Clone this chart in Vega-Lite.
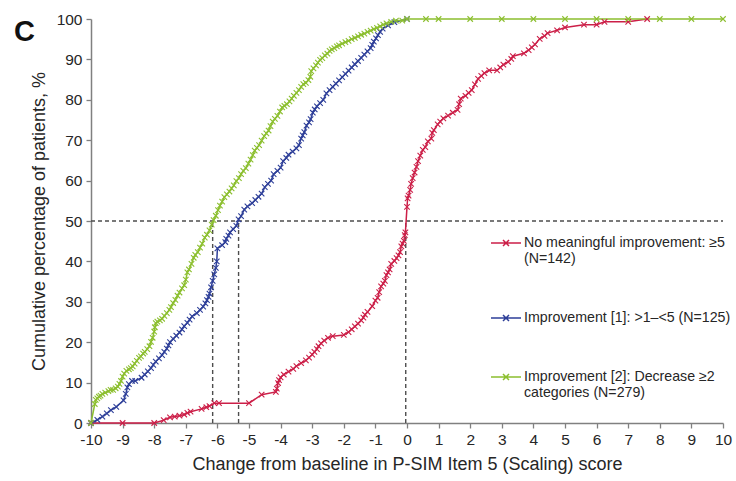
{
  "$schema": "https://vega.github.io/schema/vega-lite/v6.json",
  "width": 632,
  "height": 404,
  "autosize": {"type": "none"},
  "padding": {"left": 91, "top": 19, "right": 13, "bottom": 58},
  "background": "white",
  "title": {"text": "C", "anchor": "start", "frame": "group", "font": "Liberation Sans", "fontSize": 29, "fontWeight": "bold", "color": "#111", "dx": -77, "dy": 35, "offset": 0},
  "config": {
    "view": {"stroke": null},
    "axis": {"grid": false, "domainColor": "#808080", "domainWidth": 1.5, "tickColor": "#808080", "tickWidth": 1.3, "tickSize": 5, "labelFont": "Liberation Sans", "labelFontSize": 15.5, "labelColor": "#262626", "titleFont": "Liberation Sans", "titleFontSize": 18, "titleFontWeight": "normal", "titleColor": "#262626"},
    "legend": {"labelFont": "Liberation Sans", "labelFontSize": 14.2, "labelColor": "#262626"}
  },
  "datasets": {
    "curves": [
      {"group": "No meaningful improvement: ≥5 (N=142)", "change": -10, "pct": 0},
      {"group": "No meaningful improvement: ≥5 (N=142)", "change": -9, "pct": 0},
      {"group": "No meaningful improvement: ≥5 (N=142)", "change": -8, "pct": 0},
      {"group": "No meaningful improvement: ≥5 (N=142)", "change": -7.7, "pct": 0.7},
      {"group": "No meaningful improvement: ≥5 (N=142)", "change": -7.5, "pct": 1.4},
      {"group": "No meaningful improvement: ≥5 (N=142)", "change": -7.35, "pct": 1.6},
      {"group": "No meaningful improvement: ≥5 (N=142)", "change": -7.2, "pct": 1.8},
      {"group": "No meaningful improvement: ≥5 (N=142)", "change": -7.05, "pct": 2.1},
      {"group": "No meaningful improvement: ≥5 (N=142)", "change": -6.95, "pct": 2.5},
      {"group": "No meaningful improvement: ≥5 (N=142)", "change": -6.85, "pct": 2.8},
      {"group": "No meaningful improvement: ≥5 (N=142)", "change": -6.5, "pct": 3.5},
      {"group": "No meaningful improvement: ≥5 (N=142)", "change": -6.35, "pct": 3.9},
      {"group": "No meaningful improvement: ≥5 (N=142)", "change": -6.25, "pct": 4.2},
      {"group": "No meaningful improvement: ≥5 (N=142)", "change": -6.1, "pct": 4.9},
      {"group": "No meaningful improvement: ≥5 (N=142)", "change": -5.95, "pct": 4.9},
      {"group": "No meaningful improvement: ≥5 (N=142)", "change": -5.0, "pct": 4.9},
      {"group": "No meaningful improvement: ≥5 (N=142)", "change": -4.6, "pct": 7.0},
      {"group": "No meaningful improvement: ≥5 (N=142)", "change": -4.15, "pct": 7.7},
      {"group": "No meaningful improvement: ≥5 (N=142)", "change": -4.12, "pct": 8.5},
      {"group": "No meaningful improvement: ≥5 (N=142)", "change": -4.08, "pct": 9.9},
      {"group": "No meaningful improvement: ≥5 (N=142)", "change": -4.05, "pct": 10.6},
      {"group": "No meaningful improvement: ≥5 (N=142)", "change": -4.0, "pct": 11.3},
      {"group": "No meaningful improvement: ≥5 (N=142)", "change": -3.9, "pct": 12.0},
      {"group": "No meaningful improvement: ≥5 (N=142)", "change": -3.75, "pct": 12.7},
      {"group": "No meaningful improvement: ≥5 (N=142)", "change": -3.6, "pct": 13.4},
      {"group": "No meaningful improvement: ≥5 (N=142)", "change": -3.5, "pct": 14.1},
      {"group": "No meaningful improvement: ≥5 (N=142)", "change": -3.35, "pct": 14.8},
      {"group": "No meaningful improvement: ≥5 (N=142)", "change": -3.2, "pct": 15.5},
      {"group": "No meaningful improvement: ≥5 (N=142)", "change": -3.1, "pct": 16.2},
      {"group": "No meaningful improvement: ≥5 (N=142)", "change": -3.0, "pct": 16.9},
      {"group": "No meaningful improvement: ≥5 (N=142)", "change": -2.93, "pct": 17.6},
      {"group": "No meaningful improvement: ≥5 (N=142)", "change": -2.85, "pct": 18.3},
      {"group": "No meaningful improvement: ≥5 (N=142)", "change": -2.8, "pct": 19.0},
      {"group": "No meaningful improvement: ≥5 (N=142)", "change": -2.72, "pct": 19.7},
      {"group": "No meaningful improvement: ≥5 (N=142)", "change": -2.62, "pct": 20.4},
      {"group": "No meaningful improvement: ≥5 (N=142)", "change": -2.5, "pct": 21.1},
      {"group": "No meaningful improvement: ≥5 (N=142)", "change": -2.35, "pct": 21.5},
      {"group": "No meaningful improvement: ≥5 (N=142)", "change": -2.0, "pct": 21.8},
      {"group": "No meaningful improvement: ≥5 (N=142)", "change": -1.85, "pct": 22.5},
      {"group": "No meaningful improvement: ≥5 (N=142)", "change": -1.75, "pct": 23.2},
      {"group": "No meaningful improvement: ≥5 (N=142)", "change": -1.65, "pct": 23.9},
      {"group": "No meaningful improvement: ≥5 (N=142)", "change": -1.55, "pct": 24.6},
      {"group": "No meaningful improvement: ≥5 (N=142)", "change": -1.45, "pct": 25.4},
      {"group": "No meaningful improvement: ≥5 (N=142)", "change": -1.38, "pct": 26.1},
      {"group": "No meaningful improvement: ≥5 (N=142)", "change": -1.33, "pct": 26.8},
      {"group": "No meaningful improvement: ≥5 (N=142)", "change": -1.25, "pct": 27.5},
      {"group": "No meaningful improvement: ≥5 (N=142)", "change": -1.1, "pct": 28.9},
      {"group": "No meaningful improvement: ≥5 (N=142)", "change": -1.0, "pct": 30.3},
      {"group": "No meaningful improvement: ≥5 (N=142)", "change": -0.93, "pct": 31.0},
      {"group": "No meaningful improvement: ≥5 (N=142)", "change": -0.88, "pct": 32.4},
      {"group": "No meaningful improvement: ≥5 (N=142)", "change": -0.82, "pct": 33.8},
      {"group": "No meaningful improvement: ≥5 (N=142)", "change": -0.75, "pct": 34.5},
      {"group": "No meaningful improvement: ≥5 (N=142)", "change": -0.7, "pct": 35.2},
      {"group": "No meaningful improvement: ≥5 (N=142)", "change": -0.65, "pct": 36.6},
      {"group": "No meaningful improvement: ≥5 (N=142)", "change": -0.6, "pct": 37.3},
      {"group": "No meaningful improvement: ≥5 (N=142)", "change": -0.55, "pct": 38.0},
      {"group": "No meaningful improvement: ≥5 (N=142)", "change": -0.5, "pct": 39.4},
      {"group": "No meaningful improvement: ≥5 (N=142)", "change": -0.4, "pct": 40.1},
      {"group": "No meaningful improvement: ≥5 (N=142)", "change": -0.33, "pct": 40.8},
      {"group": "No meaningful improvement: ≥5 (N=142)", "change": -0.27, "pct": 41.5},
      {"group": "No meaningful improvement: ≥5 (N=142)", "change": -0.22, "pct": 42.3},
      {"group": "No meaningful improvement: ≥5 (N=142)", "change": -0.18, "pct": 43.7},
      {"group": "No meaningful improvement: ≥5 (N=142)", "change": -0.14, "pct": 44.4},
      {"group": "No meaningful improvement: ≥5 (N=142)", "change": -0.1, "pct": 45.1},
      {"group": "No meaningful improvement: ≥5 (N=142)", "change": -0.07, "pct": 46.5},
      {"group": "No meaningful improvement: ≥5 (N=142)", "change": -0.05, "pct": 47.2},
      {"group": "No meaningful improvement: ≥5 (N=142)", "change": 0, "pct": 53.5},
      {"group": "No meaningful improvement: ≥5 (N=142)", "change": 0.02, "pct": 55.6},
      {"group": "No meaningful improvement: ≥5 (N=142)", "change": 0.05, "pct": 56.3},
      {"group": "No meaningful improvement: ≥5 (N=142)", "change": 0.1, "pct": 57.7},
      {"group": "No meaningful improvement: ≥5 (N=142)", "change": 0.13, "pct": 59.2},
      {"group": "No meaningful improvement: ≥5 (N=142)", "change": 0.18, "pct": 60.6},
      {"group": "No meaningful improvement: ≥5 (N=142)", "change": 0.24, "pct": 62.0},
      {"group": "No meaningful improvement: ≥5 (N=142)", "change": 0.3, "pct": 63.4},
      {"group": "No meaningful improvement: ≥5 (N=142)", "change": 0.35, "pct": 64.8},
      {"group": "No meaningful improvement: ≥5 (N=142)", "change": 0.42, "pct": 66.2},
      {"group": "No meaningful improvement: ≥5 (N=142)", "change": 0.5, "pct": 67.6},
      {"group": "No meaningful improvement: ≥5 (N=142)", "change": 0.58, "pct": 68.3},
      {"group": "No meaningful improvement: ≥5 (N=142)", "change": 0.66, "pct": 69.7},
      {"group": "No meaningful improvement: ≥5 (N=142)", "change": 0.77, "pct": 70.4},
      {"group": "No meaningful improvement: ≥5 (N=142)", "change": 0.8, "pct": 71.8},
      {"group": "No meaningful improvement: ≥5 (N=142)", "change": 0.85, "pct": 72.5},
      {"group": "No meaningful improvement: ≥5 (N=142)", "change": 0.97, "pct": 73.9},
      {"group": "No meaningful improvement: ≥5 (N=142)", "change": 1.05, "pct": 74.6},
      {"group": "No meaningful improvement: ≥5 (N=142)", "change": 1.15, "pct": 75.4},
      {"group": "No meaningful improvement: ≥5 (N=142)", "change": 1.3, "pct": 76.1},
      {"group": "No meaningful improvement: ≥5 (N=142)", "change": 1.45, "pct": 76.8},
      {"group": "No meaningful improvement: ≥5 (N=142)", "change": 1.6, "pct": 77.5},
      {"group": "No meaningful improvement: ≥5 (N=142)", "change": 1.65, "pct": 78.9},
      {"group": "No meaningful improvement: ≥5 (N=142)", "change": 1.7, "pct": 80.3},
      {"group": "No meaningful improvement: ≥5 (N=142)", "change": 1.85, "pct": 81.0},
      {"group": "No meaningful improvement: ≥5 (N=142)", "change": 1.95, "pct": 81.7},
      {"group": "No meaningful improvement: ≥5 (N=142)", "change": 2.05, "pct": 82.4},
      {"group": "No meaningful improvement: ≥5 (N=142)", "change": 2.15, "pct": 83.8},
      {"group": "No meaningful improvement: ≥5 (N=142)", "change": 2.25, "pct": 85.2},
      {"group": "No meaningful improvement: ≥5 (N=142)", "change": 2.35, "pct": 85.9},
      {"group": "No meaningful improvement: ≥5 (N=142)", "change": 2.45, "pct": 86.6},
      {"group": "No meaningful improvement: ≥5 (N=142)", "change": 2.6, "pct": 87.3},
      {"group": "No meaningful improvement: ≥5 (N=142)", "change": 2.85, "pct": 87.3},
      {"group": "No meaningful improvement: ≥5 (N=142)", "change": 2.95, "pct": 88.0},
      {"group": "No meaningful improvement: ≥5 (N=142)", "change": 3.05, "pct": 88.7},
      {"group": "No meaningful improvement: ≥5 (N=142)", "change": 3.2, "pct": 89.4},
      {"group": "No meaningful improvement: ≥5 (N=142)", "change": 3.3, "pct": 90.1},
      {"group": "No meaningful improvement: ≥5 (N=142)", "change": 3.35, "pct": 90.8},
      {"group": "No meaningful improvement: ≥5 (N=142)", "change": 3.7, "pct": 91.5},
      {"group": "No meaningful improvement: ≥5 (N=142)", "change": 3.85, "pct": 92.3},
      {"group": "No meaningful improvement: ≥5 (N=142)", "change": 3.95, "pct": 93.0},
      {"group": "No meaningful improvement: ≥5 (N=142)", "change": 4.05, "pct": 93.7},
      {"group": "No meaningful improvement: ≥5 (N=142)", "change": 4.2, "pct": 95.1},
      {"group": "No meaningful improvement: ≥5 (N=142)", "change": 4.35, "pct": 95.8},
      {"group": "No meaningful improvement: ≥5 (N=142)", "change": 4.45, "pct": 96.5},
      {"group": "No meaningful improvement: ≥5 (N=142)", "change": 4.75, "pct": 97.2},
      {"group": "No meaningful improvement: ≥5 (N=142)", "change": 5.0, "pct": 97.9},
      {"group": "No meaningful improvement: ≥5 (N=142)", "change": 5.6, "pct": 98.6},
      {"group": "No meaningful improvement: ≥5 (N=142)", "change": 6.0, "pct": 98.6},
      {"group": "No meaningful improvement: ≥5 (N=142)", "change": 6.25, "pct": 99.3},
      {"group": "No meaningful improvement: ≥5 (N=142)", "change": 7.0, "pct": 99.3},
      {"group": "No meaningful improvement: ≥5 (N=142)", "change": 7.6, "pct": 100},

      {"group": "Improvement [1]: >1–<5 (N=125)", "change": -10, "pct": 0},
      {"group": "Improvement [1]: >1–<5 (N=125)", "change": -9.8, "pct": 0.8},
      {"group": "Improvement [1]: >1–<5 (N=125)", "change": -9.64, "pct": 1.6},
      {"group": "Improvement [1]: >1–<5 (N=125)", "change": -9.5, "pct": 2.4},
      {"group": "Improvement [1]: >1–<5 (N=125)", "change": -9.37, "pct": 3.2},
      {"group": "Improvement [1]: >1–<5 (N=125)", "change": -9.2, "pct": 4.0},
      {"group": "Improvement [1]: >1–<5 (N=125)", "change": -8.97, "pct": 5.6},
      {"group": "Improvement [1]: >1–<5 (N=125)", "change": -8.9, "pct": 7.2},
      {"group": "Improvement [1]: >1–<5 (N=125)", "change": -8.85, "pct": 8.8},
      {"group": "Improvement [1]: >1–<5 (N=125)", "change": -8.8, "pct": 9.6},
      {"group": "Improvement [1]: >1–<5 (N=125)", "change": -8.7, "pct": 10.4},
      {"group": "Improvement [1]: >1–<5 (N=125)", "change": -8.6, "pct": 10.4},
      {"group": "Improvement [1]: >1–<5 (N=125)", "change": -8.4, "pct": 11.2},
      {"group": "Improvement [1]: >1–<5 (N=125)", "change": -8.3, "pct": 12.0},
      {"group": "Improvement [1]: >1–<5 (N=125)", "change": -8.2, "pct": 12.8},
      {"group": "Improvement [1]: >1–<5 (N=125)", "change": -8.1, "pct": 13.6},
      {"group": "Improvement [1]: >1–<5 (N=125)", "change": -8.03, "pct": 14.4},
      {"group": "Improvement [1]: >1–<5 (N=125)", "change": -7.95, "pct": 15.2},
      {"group": "Improvement [1]: >1–<5 (N=125)", "change": -7.85, "pct": 16.0},
      {"group": "Improvement [1]: >1–<5 (N=125)", "change": -7.75, "pct": 16.8},
      {"group": "Improvement [1]: >1–<5 (N=125)", "change": -7.68, "pct": 17.6},
      {"group": "Improvement [1]: >1–<5 (N=125)", "change": -7.6, "pct": 18.4},
      {"group": "Improvement [1]: >1–<5 (N=125)", "change": -7.55, "pct": 19.2},
      {"group": "Improvement [1]: >1–<5 (N=125)", "change": -7.5, "pct": 20.0},
      {"group": "Improvement [1]: >1–<5 (N=125)", "change": -7.4, "pct": 20.8},
      {"group": "Improvement [1]: >1–<5 (N=125)", "change": -7.3, "pct": 21.6},
      {"group": "Improvement [1]: >1–<5 (N=125)", "change": -7.2, "pct": 22.4},
      {"group": "Improvement [1]: >1–<5 (N=125)", "change": -7.12, "pct": 23.2},
      {"group": "Improvement [1]: >1–<5 (N=125)", "change": -7.05, "pct": 24.0},
      {"group": "Improvement [1]: >1–<5 (N=125)", "change": -6.95, "pct": 24.8},
      {"group": "Improvement [1]: >1–<5 (N=125)", "change": -6.88, "pct": 25.6},
      {"group": "Improvement [1]: >1–<5 (N=125)", "change": -6.8, "pct": 26.4},
      {"group": "Improvement [1]: >1–<5 (N=125)", "change": -6.65, "pct": 27.2},
      {"group": "Improvement [1]: >1–<5 (N=125)", "change": -6.55, "pct": 28.0},
      {"group": "Improvement [1]: >1–<5 (N=125)", "change": -6.45, "pct": 28.8},
      {"group": "Improvement [1]: >1–<5 (N=125)", "change": -6.38, "pct": 29.6},
      {"group": "Improvement [1]: >1–<5 (N=125)", "change": -6.33, "pct": 30.4},
      {"group": "Improvement [1]: >1–<5 (N=125)", "change": -6.28, "pct": 31.2},
      {"group": "Improvement [1]: >1–<5 (N=125)", "change": -6.25, "pct": 32.0},
      {"group": "Improvement [1]: >1–<5 (N=125)", "change": -6.2, "pct": 33.6},
      {"group": "Improvement [1]: >1–<5 (N=125)", "change": -6.15, "pct": 35.2},
      {"group": "Improvement [1]: >1–<5 (N=125)", "change": -6.1, "pct": 36.8},
      {"group": "Improvement [1]: >1–<5 (N=125)", "change": -6.05, "pct": 38.4},
      {"group": "Improvement [1]: >1–<5 (N=125)", "change": -6.02, "pct": 40.0},
      {"group": "Improvement [1]: >1–<5 (N=125)", "change": -6.0, "pct": 43.2},
      {"group": "Improvement [1]: >1–<5 (N=125)", "change": -5.85, "pct": 44.0},
      {"group": "Improvement [1]: >1–<5 (N=125)", "change": -5.75, "pct": 44.8},
      {"group": "Improvement [1]: >1–<5 (N=125)", "change": -5.72, "pct": 45.6},
      {"group": "Improvement [1]: >1–<5 (N=125)", "change": -5.65, "pct": 46.4},
      {"group": "Improvement [1]: >1–<5 (N=125)", "change": -5.6, "pct": 47.2},
      {"group": "Improvement [1]: >1–<5 (N=125)", "change": -5.5, "pct": 48.0},
      {"group": "Improvement [1]: >1–<5 (N=125)", "change": -5.4, "pct": 48.8},
      {"group": "Improvement [1]: >1–<5 (N=125)", "change": -5.33, "pct": 50.4},
      {"group": "Improvement [1]: >1–<5 (N=125)", "change": -5.25, "pct": 51.2},
      {"group": "Improvement [1]: >1–<5 (N=125)", "change": -5.15, "pct": 52.8},
      {"group": "Improvement [1]: >1–<5 (N=125)", "change": -5.05, "pct": 53.6},
      {"group": "Improvement [1]: >1–<5 (N=125)", "change": -4.9, "pct": 54.4},
      {"group": "Improvement [1]: >1–<5 (N=125)", "change": -4.8, "pct": 55.2},
      {"group": "Improvement [1]: >1–<5 (N=125)", "change": -4.7, "pct": 56.0},
      {"group": "Improvement [1]: >1–<5 (N=125)", "change": -4.6, "pct": 56.8},
      {"group": "Improvement [1]: >1–<5 (N=125)", "change": -4.5, "pct": 58.4},
      {"group": "Improvement [1]: >1–<5 (N=125)", "change": -4.4, "pct": 59.2},
      {"group": "Improvement [1]: >1–<5 (N=125)", "change": -4.3, "pct": 60.0},
      {"group": "Improvement [1]: >1–<5 (N=125)", "change": -4.22, "pct": 61.6},
      {"group": "Improvement [1]: >1–<5 (N=125)", "change": -4.1, "pct": 62.4},
      {"group": "Improvement [1]: >1–<5 (N=125)", "change": -4.0, "pct": 63.2},
      {"group": "Improvement [1]: >1–<5 (N=125)", "change": -3.92, "pct": 64.8},
      {"group": "Improvement [1]: >1–<5 (N=125)", "change": -3.82, "pct": 65.6},
      {"group": "Improvement [1]: >1–<5 (N=125)", "change": -3.75, "pct": 66.4},
      {"group": "Improvement [1]: >1–<5 (N=125)", "change": -3.62, "pct": 67.2},
      {"group": "Improvement [1]: >1–<5 (N=125)", "change": -3.5, "pct": 68.0},
      {"group": "Improvement [1]: >1–<5 (N=125)", "change": -3.42, "pct": 68.8},
      {"group": "Improvement [1]: >1–<5 (N=125)", "change": -3.35, "pct": 70.4},
      {"group": "Improvement [1]: >1–<5 (N=125)", "change": -3.3, "pct": 71.2},
      {"group": "Improvement [1]: >1–<5 (N=125)", "change": -3.25, "pct": 72.0},
      {"group": "Improvement [1]: >1–<5 (N=125)", "change": -3.18, "pct": 73.6},
      {"group": "Improvement [1]: >1–<5 (N=125)", "change": -3.1, "pct": 74.4},
      {"group": "Improvement [1]: >1–<5 (N=125)", "change": -3.05, "pct": 75.2},
      {"group": "Improvement [1]: >1–<5 (N=125)", "change": -2.98, "pct": 76.8},
      {"group": "Improvement [1]: >1–<5 (N=125)", "change": -2.92, "pct": 77.6},
      {"group": "Improvement [1]: >1–<5 (N=125)", "change": -2.85, "pct": 78.4},
      {"group": "Improvement [1]: >1–<5 (N=125)", "change": -2.75, "pct": 79.2},
      {"group": "Improvement [1]: >1–<5 (N=125)", "change": -2.65, "pct": 80.0},
      {"group": "Improvement [1]: >1–<5 (N=125)", "change": -2.55, "pct": 81.6},
      {"group": "Improvement [1]: >1–<5 (N=125)", "change": -2.45, "pct": 82.4},
      {"group": "Improvement [1]: >1–<5 (N=125)", "change": -2.35, "pct": 83.2},
      {"group": "Improvement [1]: >1–<5 (N=125)", "change": -2.25, "pct": 84.0},
      {"group": "Improvement [1]: >1–<5 (N=125)", "change": -2.15, "pct": 84.8},
      {"group": "Improvement [1]: >1–<5 (N=125)", "change": -2.05, "pct": 85.6},
      {"group": "Improvement [1]: >1–<5 (N=125)", "change": -1.95, "pct": 86.4},
      {"group": "Improvement [1]: >1–<5 (N=125)", "change": -1.85, "pct": 87.2},
      {"group": "Improvement [1]: >1–<5 (N=125)", "change": -1.75, "pct": 88.0},
      {"group": "Improvement [1]: >1–<5 (N=125)", "change": -1.65, "pct": 88.8},
      {"group": "Improvement [1]: >1–<5 (N=125)", "change": -1.55, "pct": 89.6},
      {"group": "Improvement [1]: >1–<5 (N=125)", "change": -1.45, "pct": 90.4},
      {"group": "Improvement [1]: >1–<5 (N=125)", "change": -1.35, "pct": 91.2},
      {"group": "Improvement [1]: >1–<5 (N=125)", "change": -1.25, "pct": 92.0},
      {"group": "Improvement [1]: >1–<5 (N=125)", "change": -1.15, "pct": 92.8},
      {"group": "Improvement [1]: >1–<5 (N=125)", "change": -1.1, "pct": 93.6},
      {"group": "Improvement [1]: >1–<5 (N=125)", "change": -1.05, "pct": 94.4},
      {"group": "Improvement [1]: >1–<5 (N=125)", "change": -0.98, "pct": 95.2},
      {"group": "Improvement [1]: >1–<5 (N=125)", "change": -0.92, "pct": 96.0},
      {"group": "Improvement [1]: >1–<5 (N=125)", "change": -0.85, "pct": 96.8},
      {"group": "Improvement [1]: >1–<5 (N=125)", "change": -0.77, "pct": 97.6},
      {"group": "Improvement [1]: >1–<5 (N=125)", "change": -0.6, "pct": 98.4},
      {"group": "Improvement [1]: >1–<5 (N=125)", "change": -0.4, "pct": 99.2},
      {"group": "Improvement [1]: >1–<5 (N=125)", "change": 0, "pct": 100},

      {"group": "Improvement [2]: Decrease ≥2 categories (N=279)", "change": -10, "pct": 0},
      {"group": "Improvement [2]: Decrease ≥2 categories (N=279)", "change": -9.88, "pct": 4.7},
      {"group": "Improvement [2]: Decrease ≥2 categories (N=279)", "change": -9.85, "pct": 5.7},
      {"group": "Improvement [2]: Decrease ≥2 categories (N=279)", "change": -9.8, "pct": 6.1},
      {"group": "Improvement [2]: Decrease ≥2 categories (N=279)", "change": -9.75, "pct": 6.5},
      {"group": "Improvement [2]: Decrease ≥2 categories (N=279)", "change": -9.7, "pct": 6.8},
      {"group": "Improvement [2]: Decrease ≥2 categories (N=279)", "change": -9.64, "pct": 7.2},
      {"group": "Improvement [2]: Decrease ≥2 categories (N=279)", "change": -9.55, "pct": 7.5},
      {"group": "Improvement [2]: Decrease ≥2 categories (N=279)", "change": -9.45, "pct": 7.9},
      {"group": "Improvement [2]: Decrease ≥2 categories (N=279)", "change": -9.38, "pct": 8.2},
      {"group": "Improvement [2]: Decrease ≥2 categories (N=279)", "change": -9.3, "pct": 8.2},
      {"group": "Improvement [2]: Decrease ≥2 categories (N=279)", "change": -9.22, "pct": 8.6},
      {"group": "Improvement [2]: Decrease ≥2 categories (N=279)", "change": -9.15, "pct": 9.0},
      {"group": "Improvement [2]: Decrease ≥2 categories (N=279)", "change": -9.1, "pct": 9.7},
      {"group": "Improvement [2]: Decrease ≥2 categories (N=279)", "change": -9.05, "pct": 10.4},
      {"group": "Improvement [2]: Decrease ≥2 categories (N=279)", "change": -9.0, "pct": 11.5},
      {"group": "Improvement [2]: Decrease ≥2 categories (N=279)", "change": -8.95, "pct": 12.2},
      {"group": "Improvement [2]: Decrease ≥2 categories (N=279)", "change": -8.88, "pct": 12.9},
      {"group": "Improvement [2]: Decrease ≥2 categories (N=279)", "change": -8.8, "pct": 13.3},
      {"group": "Improvement [2]: Decrease ≥2 categories (N=279)", "change": -8.74, "pct": 13.6},
      {"group": "Improvement [2]: Decrease ≥2 categories (N=279)", "change": -8.68, "pct": 14.0},
      {"group": "Improvement [2]: Decrease ≥2 categories (N=279)", "change": -8.62, "pct": 14.7},
      {"group": "Improvement [2]: Decrease ≥2 categories (N=279)", "change": -8.55, "pct": 15.4},
      {"group": "Improvement [2]: Decrease ≥2 categories (N=279)", "change": -8.48, "pct": 16.1},
      {"group": "Improvement [2]: Decrease ≥2 categories (N=279)", "change": -8.42, "pct": 16.5},
      {"group": "Improvement [2]: Decrease ≥2 categories (N=279)", "change": -8.35, "pct": 17.2},
      {"group": "Improvement [2]: Decrease ≥2 categories (N=279)", "change": -8.3, "pct": 17.6},
      {"group": "Improvement [2]: Decrease ≥2 categories (N=279)", "change": -8.22, "pct": 18.3},
      {"group": "Improvement [2]: Decrease ≥2 categories (N=279)", "change": -8.15, "pct": 19.0},
      {"group": "Improvement [2]: Decrease ≥2 categories (N=279)", "change": -8.1, "pct": 20.1},
      {"group": "Improvement [2]: Decrease ≥2 categories (N=279)", "change": -8.05, "pct": 21.1},
      {"group": "Improvement [2]: Decrease ≥2 categories (N=279)", "change": -8.0, "pct": 22.6},
      {"group": "Improvement [2]: Decrease ≥2 categories (N=279)", "change": -7.98, "pct": 23.7},
      {"group": "Improvement [2]: Decrease ≥2 categories (N=279)", "change": -7.95, "pct": 24.7},
      {"group": "Improvement [2]: Decrease ≥2 categories (N=279)", "change": -7.9, "pct": 25.1},
      {"group": "Improvement [2]: Decrease ≥2 categories (N=279)", "change": -7.82, "pct": 25.4},
      {"group": "Improvement [2]: Decrease ≥2 categories (N=279)", "change": -7.75, "pct": 25.8},
      {"group": "Improvement [2]: Decrease ≥2 categories (N=279)", "change": -7.68, "pct": 26.5},
      {"group": "Improvement [2]: Decrease ≥2 categories (N=279)", "change": -7.6, "pct": 27.2},
      {"group": "Improvement [2]: Decrease ≥2 categories (N=279)", "change": -7.52, "pct": 28.0},
      {"group": "Improvement [2]: Decrease ≥2 categories (N=279)", "change": -7.47, "pct": 28.7},
      {"group": "Improvement [2]: Decrease ≥2 categories (N=279)", "change": -7.4, "pct": 29.7},
      {"group": "Improvement [2]: Decrease ≥2 categories (N=279)", "change": -7.33, "pct": 30.5},
      {"group": "Improvement [2]: Decrease ≥2 categories (N=279)", "change": -7.26, "pct": 31.5},
      {"group": "Improvement [2]: Decrease ≥2 categories (N=279)", "change": -7.2, "pct": 32.3},
      {"group": "Improvement [2]: Decrease ≥2 categories (N=279)", "change": -7.12, "pct": 33.3},
      {"group": "Improvement [2]: Decrease ≥2 categories (N=279)", "change": -7.05, "pct": 34.1},
      {"group": "Improvement [2]: Decrease ≥2 categories (N=279)", "change": -7.0, "pct": 35.5},
      {"group": "Improvement [2]: Decrease ≥2 categories (N=279)", "change": -6.95, "pct": 37.3},
      {"group": "Improvement [2]: Decrease ≥2 categories (N=279)", "change": -6.9, "pct": 38.0},
      {"group": "Improvement [2]: Decrease ≥2 categories (N=279)", "change": -6.82, "pct": 39.4},
      {"group": "Improvement [2]: Decrease ≥2 categories (N=279)", "change": -6.75, "pct": 40.9},
      {"group": "Improvement [2]: Decrease ≥2 categories (N=279)", "change": -6.7, "pct": 41.6},
      {"group": "Improvement [2]: Decrease ≥2 categories (N=279)", "change": -6.62, "pct": 42.3},
      {"group": "Improvement [2]: Decrease ≥2 categories (N=279)", "change": -6.55, "pct": 43.4},
      {"group": "Improvement [2]: Decrease ≥2 categories (N=279)", "change": -6.48, "pct": 44.4},
      {"group": "Improvement [2]: Decrease ≥2 categories (N=279)", "change": -6.4, "pct": 45.9},
      {"group": "Improvement [2]: Decrease ≥2 categories (N=279)", "change": -6.33, "pct": 46.6},
      {"group": "Improvement [2]: Decrease ≥2 categories (N=279)", "change": -6.25, "pct": 47.7},
      {"group": "Improvement [2]: Decrease ≥2 categories (N=279)", "change": -6.18, "pct": 49.1},
      {"group": "Improvement [2]: Decrease ≥2 categories (N=279)", "change": -6.12, "pct": 50.2},
      {"group": "Improvement [2]: Decrease ≥2 categories (N=279)", "change": -6.05, "pct": 51.3},
      {"group": "Improvement [2]: Decrease ≥2 categories (N=279)", "change": -5.98, "pct": 52.7},
      {"group": "Improvement [2]: Decrease ≥2 categories (N=279)", "change": -5.92, "pct": 53.8},
      {"group": "Improvement [2]: Decrease ≥2 categories (N=279)", "change": -5.85, "pct": 54.8},
      {"group": "Improvement [2]: Decrease ≥2 categories (N=279)", "change": -5.78, "pct": 55.9},
      {"group": "Improvement [2]: Decrease ≥2 categories (N=279)", "change": -5.7, "pct": 56.6},
      {"group": "Improvement [2]: Decrease ≥2 categories (N=279)", "change": -5.62, "pct": 57.3},
      {"group": "Improvement [2]: Decrease ≥2 categories (N=279)", "change": -5.55, "pct": 58.1},
      {"group": "Improvement [2]: Decrease ≥2 categories (N=279)", "change": -5.48, "pct": 58.8},
      {"group": "Improvement [2]: Decrease ≥2 categories (N=279)", "change": -5.4, "pct": 59.9},
      {"group": "Improvement [2]: Decrease ≥2 categories (N=279)", "change": -5.32, "pct": 60.6},
      {"group": "Improvement [2]: Decrease ≥2 categories (N=279)", "change": -5.25, "pct": 61.6},
      {"group": "Improvement [2]: Decrease ≥2 categories (N=279)", "change": -5.18, "pct": 62.4},
      {"group": "Improvement [2]: Decrease ≥2 categories (N=279)", "change": -5.1, "pct": 63.1},
      {"group": "Improvement [2]: Decrease ≥2 categories (N=279)", "change": -5.02, "pct": 64.2},
      {"group": "Improvement [2]: Decrease ≥2 categories (N=279)", "change": -4.95, "pct": 65.2},
      {"group": "Improvement [2]: Decrease ≥2 categories (N=279)", "change": -4.88, "pct": 66.3},
      {"group": "Improvement [2]: Decrease ≥2 categories (N=279)", "change": -4.82, "pct": 67.4},
      {"group": "Improvement [2]: Decrease ≥2 categories (N=279)", "change": -4.75, "pct": 68.1},
      {"group": "Improvement [2]: Decrease ≥2 categories (N=279)", "change": -4.68, "pct": 68.8},
      {"group": "Improvement [2]: Decrease ≥2 categories (N=279)", "change": -4.6, "pct": 69.9},
      {"group": "Improvement [2]: Decrease ≥2 categories (N=279)", "change": -4.52, "pct": 71.0},
      {"group": "Improvement [2]: Decrease ≥2 categories (N=279)", "change": -4.45, "pct": 71.7},
      {"group": "Improvement [2]: Decrease ≥2 categories (N=279)", "change": -4.38, "pct": 72.4},
      {"group": "Improvement [2]: Decrease ≥2 categories (N=279)", "change": -4.32, "pct": 73.5},
      {"group": "Improvement [2]: Decrease ≥2 categories (N=279)", "change": -4.25, "pct": 74.6},
      {"group": "Improvement [2]: Decrease ≥2 categories (N=279)", "change": -4.18, "pct": 75.3},
      {"group": "Improvement [2]: Decrease ≥2 categories (N=279)", "change": -4.1, "pct": 76.0},
      {"group": "Improvement [2]: Decrease ≥2 categories (N=279)", "change": -4.02, "pct": 77.1},
      {"group": "Improvement [2]: Decrease ≥2 categories (N=279)", "change": -3.95, "pct": 78.1},
      {"group": "Improvement [2]: Decrease ≥2 categories (N=279)", "change": -3.88, "pct": 78.5},
      {"group": "Improvement [2]: Decrease ≥2 categories (N=279)", "change": -3.8, "pct": 78.9},
      {"group": "Improvement [2]: Decrease ≥2 categories (N=279)", "change": -3.72, "pct": 79.6},
      {"group": "Improvement [2]: Decrease ≥2 categories (N=279)", "change": -3.65, "pct": 80.3},
      {"group": "Improvement [2]: Decrease ≥2 categories (N=279)", "change": -3.58, "pct": 81.0},
      {"group": "Improvement [2]: Decrease ≥2 categories (N=279)", "change": -3.5, "pct": 81.7},
      {"group": "Improvement [2]: Decrease ≥2 categories (N=279)", "change": -3.42, "pct": 82.4},
      {"group": "Improvement [2]: Decrease ≥2 categories (N=279)", "change": -3.35, "pct": 83.2},
      {"group": "Improvement [2]: Decrease ≥2 categories (N=279)", "change": -3.28, "pct": 83.9},
      {"group": "Improvement [2]: Decrease ≥2 categories (N=279)", "change": -3.2, "pct": 84.2},
      {"group": "Improvement [2]: Decrease ≥2 categories (N=279)", "change": -3.12, "pct": 84.9},
      {"group": "Improvement [2]: Decrease ≥2 categories (N=279)", "change": -3.06, "pct": 85.7},
      {"group": "Improvement [2]: Decrease ≥2 categories (N=279)", "change": -3.03, "pct": 87.1},
      {"group": "Improvement [2]: Decrease ≥2 categories (N=279)", "change": -2.96, "pct": 87.8},
      {"group": "Improvement [2]: Decrease ≥2 categories (N=279)", "change": -2.88, "pct": 88.5},
      {"group": "Improvement [2]: Decrease ≥2 categories (N=279)", "change": -2.82, "pct": 89.2},
      {"group": "Improvement [2]: Decrease ≥2 categories (N=279)", "change": -2.75, "pct": 89.9},
      {"group": "Improvement [2]: Decrease ≥2 categories (N=279)", "change": -2.68, "pct": 90.3},
      {"group": "Improvement [2]: Decrease ≥2 categories (N=279)", "change": -2.6, "pct": 91.0},
      {"group": "Improvement [2]: Decrease ≥2 categories (N=279)", "change": -2.52, "pct": 91.4},
      {"group": "Improvement [2]: Decrease ≥2 categories (N=279)", "change": -2.45, "pct": 92.1},
      {"group": "Improvement [2]: Decrease ≥2 categories (N=279)", "change": -2.38, "pct": 92.5},
      {"group": "Improvement [2]: Decrease ≥2 categories (N=279)", "change": -2.3, "pct": 92.8},
      {"group": "Improvement [2]: Decrease ≥2 categories (N=279)", "change": -2.22, "pct": 93.2},
      {"group": "Improvement [2]: Decrease ≥2 categories (N=279)", "change": -2.15, "pct": 93.5},
      {"group": "Improvement [2]: Decrease ≥2 categories (N=279)", "change": -2.05, "pct": 93.9},
      {"group": "Improvement [2]: Decrease ≥2 categories (N=279)", "change": -1.95, "pct": 94.3},
      {"group": "Improvement [2]: Decrease ≥2 categories (N=279)", "change": -1.85, "pct": 94.6},
      {"group": "Improvement [2]: Decrease ≥2 categories (N=279)", "change": -1.75, "pct": 95.0},
      {"group": "Improvement [2]: Decrease ≥2 categories (N=279)", "change": -1.65, "pct": 95.3},
      {"group": "Improvement [2]: Decrease ≥2 categories (N=279)", "change": -1.55, "pct": 95.7},
      {"group": "Improvement [2]: Decrease ≥2 categories (N=279)", "change": -1.45, "pct": 96.1},
      {"group": "Improvement [2]: Decrease ≥2 categories (N=279)", "change": -1.35, "pct": 96.4},
      {"group": "Improvement [2]: Decrease ≥2 categories (N=279)", "change": -1.25, "pct": 96.8},
      {"group": "Improvement [2]: Decrease ≥2 categories (N=279)", "change": -1.15, "pct": 97.1},
      {"group": "Improvement [2]: Decrease ≥2 categories (N=279)", "change": -1.05, "pct": 97.5},
      {"group": "Improvement [2]: Decrease ≥2 categories (N=279)", "change": -0.95, "pct": 97.8},
      {"group": "Improvement [2]: Decrease ≥2 categories (N=279)", "change": -0.85, "pct": 98.2},
      {"group": "Improvement [2]: Decrease ≥2 categories (N=279)", "change": -0.75, "pct": 98.6},
      {"group": "Improvement [2]: Decrease ≥2 categories (N=279)", "change": -0.65, "pct": 98.9},
      {"group": "Improvement [2]: Decrease ≥2 categories (N=279)", "change": -0.5, "pct": 99.3},
      {"group": "Improvement [2]: Decrease ≥2 categories (N=279)", "change": -0.35, "pct": 99.6},
      {"group": "Improvement [2]: Decrease ≥2 categories (N=279)", "change": -0.15, "pct": 99.6},
      {"group": "Improvement [2]: Decrease ≥2 categories (N=279)", "change": 0, "pct": 100},
      {"group": "Improvement [2]: Decrease ≥2 categories (N=279)", "change": 0.6, "pct": 100},
      {"group": "Improvement [2]: Decrease ≥2 categories (N=279)", "change": 1, "pct": 100},
      {"group": "Improvement [2]: Decrease ≥2 categories (N=279)", "change": 2, "pct": 100},
      {"group": "Improvement [2]: Decrease ≥2 categories (N=279)", "change": 3, "pct": 100},
      {"group": "Improvement [2]: Decrease ≥2 categories (N=279)", "change": 4, "pct": 100},
      {"group": "Improvement [2]: Decrease ≥2 categories (N=279)", "change": 5, "pct": 100},
      {"group": "Improvement [2]: Decrease ≥2 categories (N=279)", "change": 6, "pct": 100},
      {"group": "Improvement [2]: Decrease ≥2 categories (N=279)", "change": 7, "pct": 100},
      {"group": "Improvement [2]: Decrease ≥2 categories (N=279)", "change": 8, "pct": 100},
      {"group": "Improvement [2]: Decrease ≥2 categories (N=279)", "change": 9, "pct": 100},
      {"group": "Improvement [2]: Decrease ≥2 categories (N=279)", "change": 10, "pct": 100}
    ],
    "refs": [
      {"change": -10, "change2": 10, "pct": 50, "pct2": 50},
      {"change": -6.15, "change2": -6.15, "pct": 0, "pct2": 50},
      {"change": -5.33, "change2": -5.33, "pct": 0, "pct2": 50},
      {"change": -0.04, "change2": -0.04, "pct": 0, "pct2": 50}
    ]
  },
  "encoding": {
    "x": {"field": "change", "type": "quantitative", "scale": {"domain": [-10, 10], "nice": false, "zero": false},
      "axis": {"values": [-10,-9,-8,-7,-6,-5,-4,-3,-2,-1,0,1,2,3,4,5,6,7,8,9,10], "labelExpr": "'' + datum.value", "title": "Change from baseline in P-SIM Item 5 (Scaling) score", "titlePadding": 8, "labelPadding": 4, "labelFlush": false, "labelOverlap": false}},
    "y": {"field": "pct", "type": "quantitative", "scale": {"domain": [0, 100], "nice": false},
      "axis": {"values": [0,10,20,30,40,50,60,70,80,90,100], "title": "Cumulative percentage of patients, %", "titlePadding": 8, "labelPadding": 4}}
  },
  "layer": [
    {
      "data": {"name": "refs"},
      "mark": {"type": "rule", "color": "#4d4d4d", "strokeWidth": 1.4, "strokeDash": [4, 3]},
      "encoding": {
        "x2": {"field": "change2"},
        "y2": {"field": "pct2"}
      }
    },
    {
      "data": {"name": "curves"},
      "mark": {"type": "line", "strokeWidth": 1.5},
      "encoding": {
        "color": {"field": "group", "type": "nominal",
          "scale": {"domain": ["No meaningful improvement: ≥5 (N=142)", "Improvement [1]: >1–<5 (N=125)", "Improvement [2]: Decrease ≥2 categories (N=279)"], "range": ["#cc1f48", "#2e3f99", "#8cbf2f"]},
          "legend": {"title": null, "orient": "none", "legendX": 399, "legendY": 208, "padding": 0, "rowPadding": 35,
            "symbolType": "M-1,0H1M-0.2,-0.2L0.2,0.2M-0.2,0.2L0.2,-0.2", "symbolSize": 900, "symbolStrokeWidth": 1.5, "symbolFillColor": "transparent",
            "labelOffset": 2, "labelBaseline": "middle", "labelLimit": 400,
            "labelExpr": "datum.value == 'No meaningful improvement: ≥5 (N=142)' ? ['No meaningful improvement: ≥5', '(N=142)'] : datum.value == 'Improvement [2]: Decrease ≥2 categories (N=279)' ? ['Improvement [2]: Decrease ≥2', 'categories (N=279)'] : datum.value"}},
        "order": {"field": "change", "type": "quantitative"}
      }
    },
    {
      "data": {"name": "curves"},
      "mark": {"type": "point", "shape": "M-1,-1L1,1M-1,1L1,-1", "filled": false, "size": 30, "strokeWidth": 1.1, "opacity": 1},
      "encoding": {
        "color": {"field": "group", "type": "nominal"}
      }
    }
  ]
}
